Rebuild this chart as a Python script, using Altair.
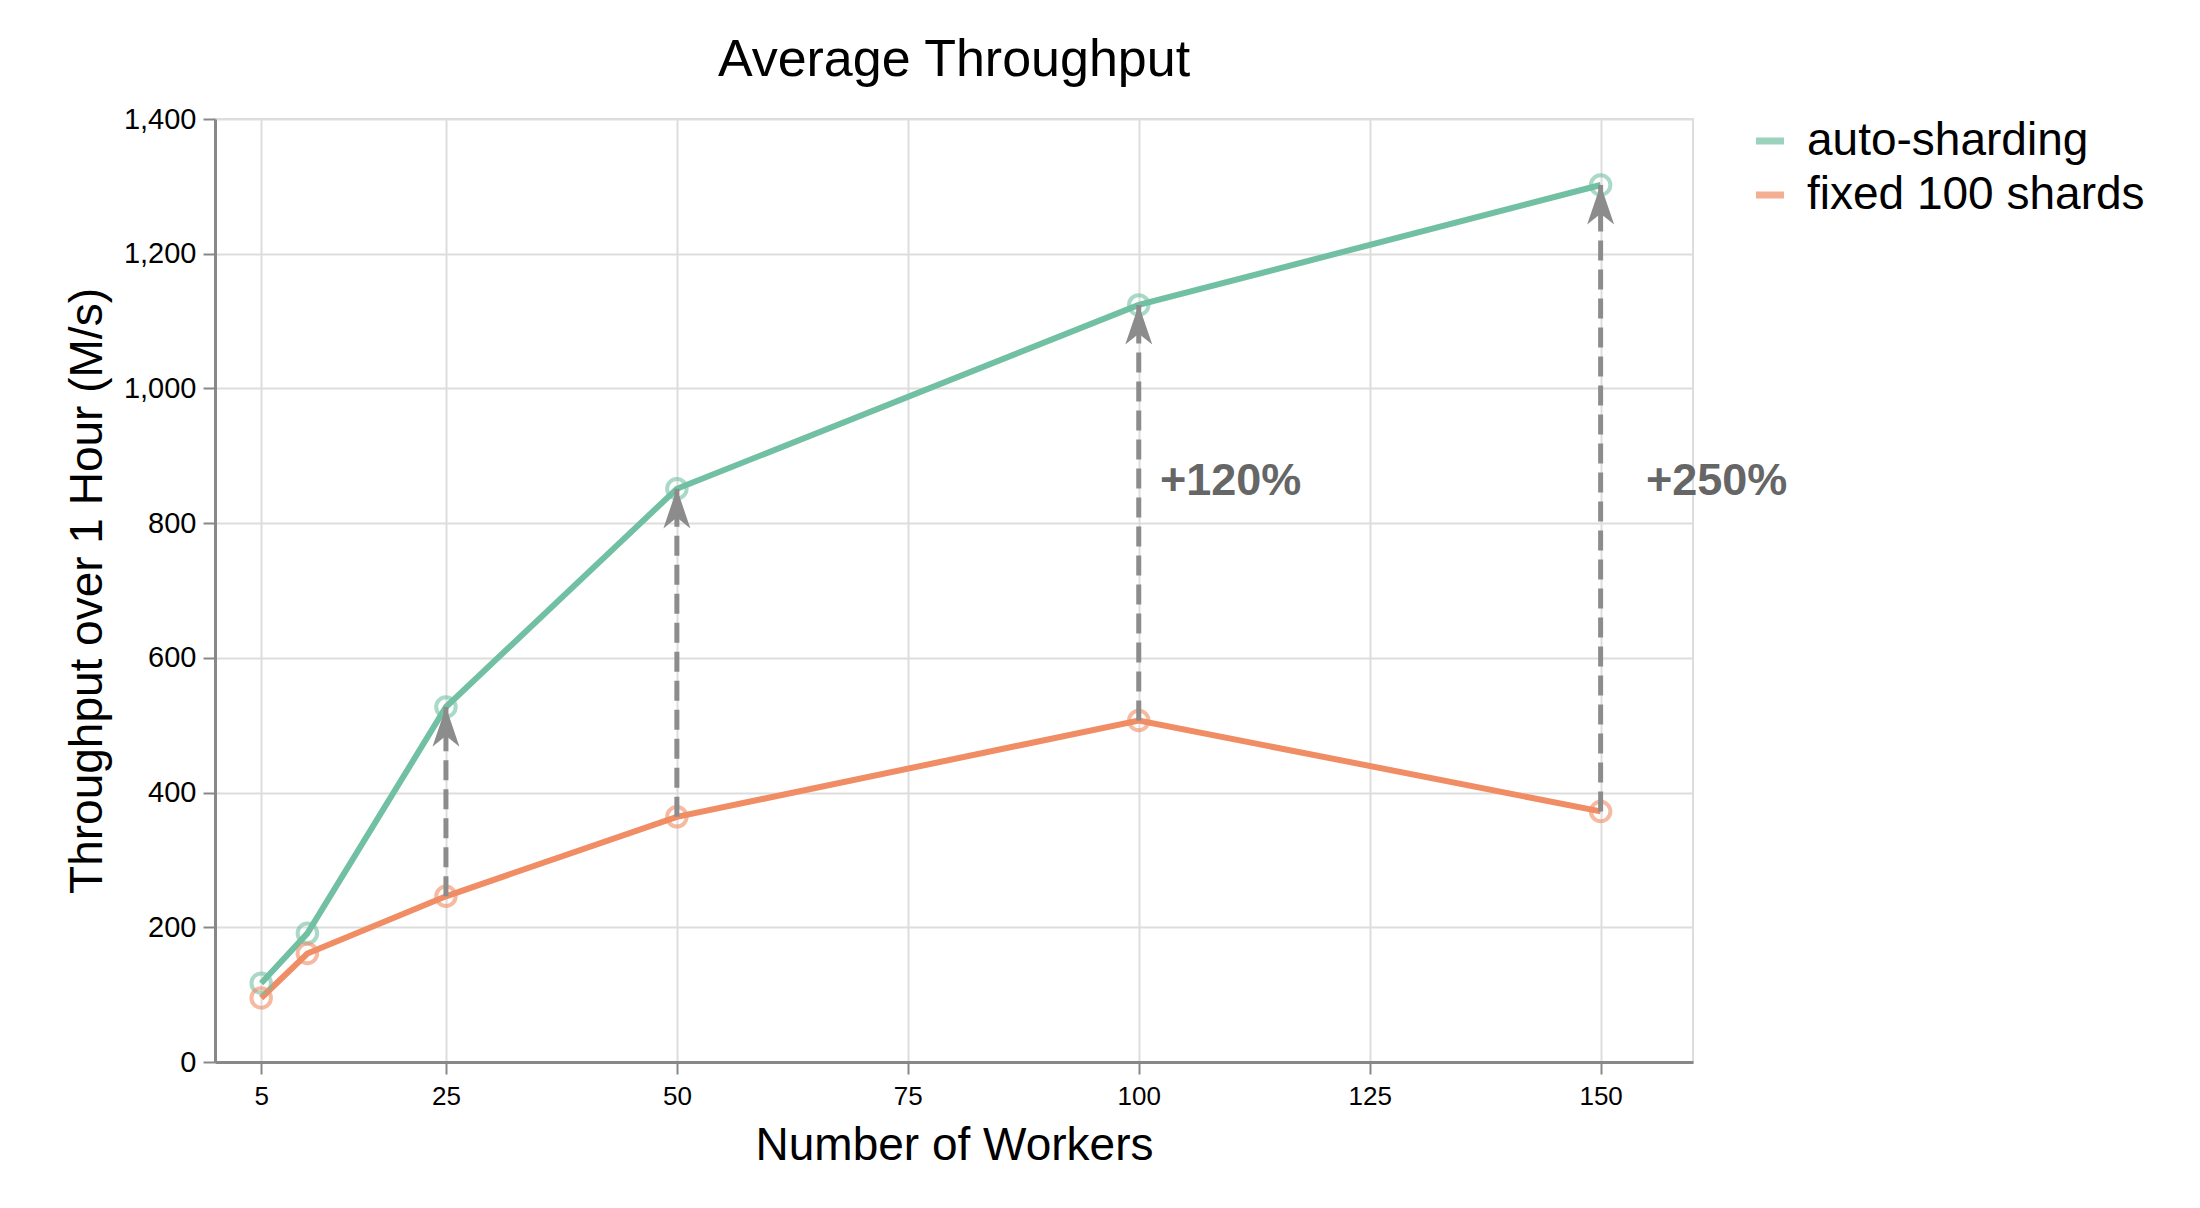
import altair as alt
import pandas as pd

# ---------------- data ----------------
workers = [5, 10, 25, 50, 100, 150]
auto_sharding = [117, 191, 527, 851, 1124, 1302]
fixed_shards = [95, 161, 246, 364, 507, 372]
series_names = ["auto-sharding", "fixed 100 shards"]

arrow_workers = [25, 50, 100, 150]

ann_text = ["+120%", "+250%"]
ann_x = [102.3, 154.9]
ann_y = [863, 863]

x_ticks = [5, 25, 50, 75, 100, 125, 150]
y_ticks = [0, 200, 400, 600, 800, 1000, 1200, 1400]

# ---------------- tables ----------------
rows = []
for w, a, f in zip(workers, auto_sharding, fixed_shards):
    rows.append({"workers": w, "value": a, "series": series_names[0]})
    rows.append({"workers": w, "value": f, "series": series_names[1]})
lines_df = pd.DataFrame(rows)

auto_map = dict(zip(workers, auto_sharding))
fixed_map = dict(zip(workers, fixed_shards))
arrows_df = pd.DataFrame({
    "workers": arrow_workers,
    "low": [fixed_map[w] for w in arrow_workers],
    "high": [auto_map[w] for w in arrow_workers],
})
ann_df = pd.DataFrame({"x": ann_x, "y": ann_y, "text": ann_text})

FONT = "Liberation Sans"
GRAY = "#8c8c8c"

x_scale = alt.Scale(domain=[0, 160], nice=False, zero=False)
y_scale = alt.Scale(domain=[0, 1400], nice=False)
color_scale = alt.Scale(domain=series_names, range=["#72c0a3", "#f08d64"])

x_axis = alt.Axis(values=x_ticks, title="Number of Workers", labelFontSize=26,
                  labelPadding=9, titleFontSize=46, titlePadding=14,
                  titleFontWeight="normal")
y_axis = alt.Axis(values=y_ticks, title="Throughput over 1 Hour (M/s)", format=",d",
                  labelFontSize=29, labelPadding=7, titleFontSize=46,
                  titlePadding=12, titleFontWeight="normal")

legend = alt.Legend(title=None, symbolType="stroke")

base = alt.Chart(lines_df)

lines = base.mark_line(strokeWidth=6).encode(
    x=alt.X("workers:Q", scale=x_scale, axis=x_axis),
    y=alt.Y("value:Q", scale=y_scale, axis=y_axis),
    color=alt.Color("series:N", scale=color_scale, sort=series_names, legend=legend),
)

points = base.mark_point(filled=False, size=380, strokeWidth=4, opacity=0.6).encode(
    x=alt.X("workers:Q", scale=x_scale),
    y=alt.Y("value:Q", scale=y_scale),
    color=alt.Color("series:N", scale=color_scale, sort=series_names, legend=legend),
)

arrow_lines = alt.Chart(arrows_df).mark_rule(
    color=GRAY, strokeWidth=5, strokeDash=[20, 9]
).encode(
    x=alt.X("workers:Q", scale=x_scale),
    y=alt.Y("low:Q", scale=y_scale),
    y2=alt.Y2("high:Q"),
)

arrow_heads = alt.Chart(arrows_df).mark_point(
    shape="M0,0 L0.75,2.2 L0,1.6 L-0.75,2.2 Z",
    size=1296, filled=True, color=GRAY, opacity=1,
).encode(
    x=alt.X("workers:Q", scale=x_scale),
    y=alt.Y("high:Q", scale=y_scale),
)

labels = alt.Chart(ann_df).mark_text(
    align="left", baseline="middle", fontSize=45, fontWeight="bold",
    color="#666666", font=FONT,
).encode(
    x=alt.X("x:Q", scale=x_scale),
    y=alt.Y("y:Q", scale=y_scale),
    text="text:N",
)

chart = alt.layer(lines, points, arrow_lines, arrow_heads, labels).properties(
    width=1478,
    height=943,
    title=alt.TitleParams("Average Throughput", fontSize=52, font=FONT,
                          fontWeight="normal", anchor="middle", offset=18),
    autosize=alt.AutoSizeParams(type="none"),
    padding={"left": 215, "top": 119, "right": 507, "bottom": 146},
).configure(
    font=FONT,
).configure_axis(
    labelFont=FONT, titleFont=FONT, labelColor="#000000", titleColor="#000000",
    domainColor="#888888", domainWidth=3, tickColor="#888888", tickWidth=2,
    tickSize=12, gridColor="#dddddd", gridWidth=2,
).configure_view(
    stroke="#dddddd", strokeWidth=2,
).configure_legend(
    orient="none", legendX=1532, legendY=-1, padding=0,
    labelFontSize=46, labelFont=FONT, labelColor="#000000", labelLimit=0,
    symbolSize=784, symbolStrokeWidth=7, symbolOpacity=0.7,
    labelOffset=14, rowPadding=8,
)

chart.save("out.html", embed_options={"renderer": "svg", "actions": False})
